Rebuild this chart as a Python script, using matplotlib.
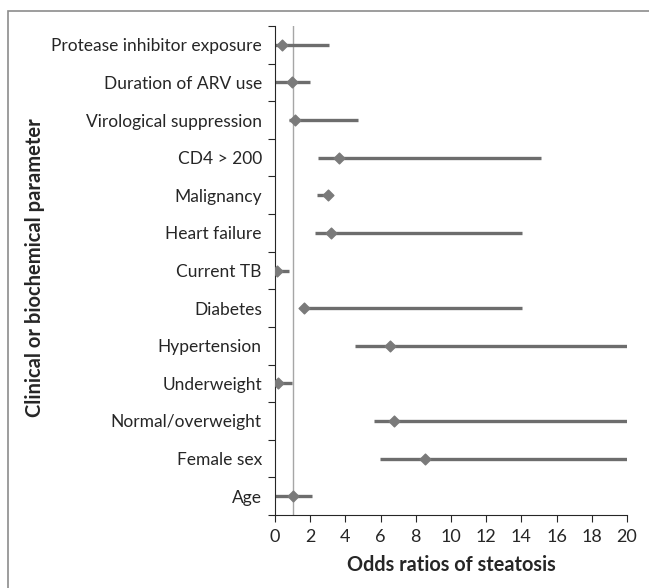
import numpy as np
import matplotlib.pyplot as plt
from matplotlib.patches import Rectangle

# dati (odds ratio e intervallo di confidenza)
parametri = ['Protease inhibitor exposure', 'Duration of ARV use', 'Virological suppression',
             'CD4 > 200', 'Malignancy', 'Heart failure', 'Current TB', 'Diabetes',
             'Hypertension', 'Underweight', 'Normal/overweight', 'Female sex', 'Age']
odds = [0.41, 0.97, 1.14, 3.66, 3.03, 3.17, 0.13, 1.64, 6.56, 0.16, 6.77, 8.52, 1.03]
ci_low = [0.02, 0.01, 0.77, 2.46, 2.41, 2.25, 0.05, 1.5, 4.57, 0.05, 5.6, 5.97, 0.01]
ci_high = [3.07, 1.97, 4.69, 15.13, 3.2, 14.03, 0.77, 14.05, 20.0, 0.98, 20.0, 20.0, 2.08]
xticks = [0, 2, 4, 6, 8, 10, 12, 14, 16, 18, 20]

plt.rcParams['font.family'] = ['Lato', 'DejaVu Sans']

fig = plt.figure(figsize=(6.49, 5.88), dpi=100)
ax = fig.add_axes([275 / 649, 1 - 515 / 588, 352 / 649, 489 / 588])

# cornice grigia attorno alla figura
fig.add_artist(Rectangle((8 / 649, -0.1), 1.2, 1 - 11 / 588 + 0.1, transform=fig.transFigure,
                         fill=False, edgecolor='#8c8c8c', linewidth=1.2))

y = np.arange(len(parametri))
ax.axvline(1, color='#a6a6a6', linewidth=1, zorder=1)
ax.hlines(y, ci_low, ci_high, color='#6d6d6d', linewidth=2.4, zorder=2)
ax.scatter(odds, y, marker='D', s=30, color='#7a7a7a', zorder=3)

ax.set_xlim(0, 20)
ax.set_ylim(len(parametri) - 0.5, -0.5)
ax.set_xticks(xticks)
ax.set_yticks(np.arange(-0.5, len(parametri), 1))
ax.set_yticklabels([])
ax.set_yticks(y, minor=True)
ax.set_yticklabels(parametri, minor=True)
ax.tick_params(axis='y', which='minor', length=0, pad=9.5, labelsize=12.5, labelcolor='#262626')
ax.tick_params(axis='y', which='major', length=5, direction='out', color='#262626')
ax.tick_params(axis='x', length=5, direction='out', pad=5, labelsize=13, labelcolor='#262626',
               color='#262626')

for s in ['top', 'right']:
    ax.spines[s].set_visible(False)
for s in ['left', 'bottom']:
    ax.spines[s].set_color('#262626')

fig.text(451 / 649, 1 - 565 / 588, 'Odds ratios of steatosis', ha='center', va='center',
         fontsize=14.3, fontweight='bold', color='#262626')
fig.text(35 / 649, 1 - 268 / 588, 'Clinical or biochemical parameter', rotation=90,
         ha='center', va='center', fontsize=14.5, fontweight='bold', color='#262626')

fig.savefig('out.png', dpi=100)
